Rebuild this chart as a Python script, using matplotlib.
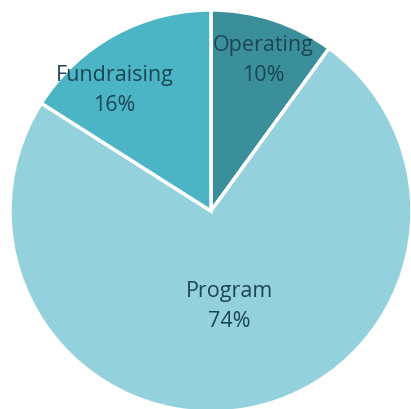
import numpy as np
import matplotlib.pyplot as plt

labels = ["Operating", "Program", "Fundraising"]
values = [10, 74, 16]
colors = ["#3a8f9b", "#93d2dd", "#4bb5c6"]

# where the labels sit (data coords, pie radius = 1)
label_pos = [(0.26, 0.75), (0.09, -0.475), (-0.48, 0.60)]

fig = plt.figure(figsize=(4.11, 4.09), dpi=100)
ax = fig.add_axes([0.0243, -0.0073, 0.978, 0.983])

wedges, texts = ax.pie(values, colors=colors, startangle=90, counterclock=False,
                       radius=1, labels=labels, labeldistance=0.7,
                       wedgeprops=dict(edgecolor="white", linewidth=2.5),
                       frame=True)
ax.set_xlim(-1, 1)
ax.set_ylim(-1, 1)
ax.set_aspect("auto")
ax.axis("off")

for t, lab, v, p in zip(texts, labels, values, label_pos):
	t.set_text(f"{lab}\n{v}%")
	t.set_position(p)
	t.set_ha("center")
	t.set_va("center")
	t.set_fontsize(15.5)
	t.set_color("#1a4753")
	t.set_family("Open Sans")
	t.set_linespacing(1.55)

fig.savefig("out.png", dpi=100)
